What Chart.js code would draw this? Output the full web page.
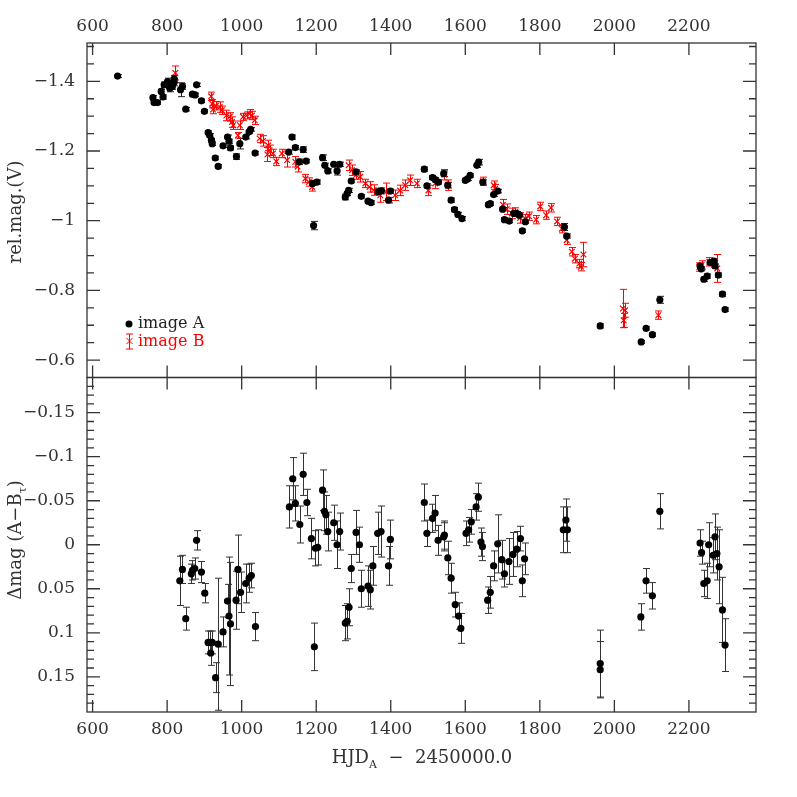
<!DOCTYPE html>
<html>
<head>
<meta charset="utf-8">
<script src="https://cdn.jsdelivr.net/npm/chart.js@4.4.0/dist/chart.umd.min.js"></script>
<style>
  html, body { margin: 0; padding: 0; background: #fff; }
  #wrap { width: 797px; height: 797px; }
</style>
</head>
<body>
<div id="wrap"><canvas id="lightCurve" width="797" height="797"></canvas></div>
<script>
// tick labels
const xTicks = [600, 800, 1000, 1200, 1400, 1600, 1800, 2000, 2200];
const magTicks = [-1.4, -1.2, -1, -0.8, -0.6];
const dmagTicks = [-0.15, -0.1, -0.05, 0, 0.05, 0.1, 0.15];

// image A : HJD - 2450000, relative V mag, error
const hjdA = [
  667, 762, 765, 774, 784, 789, 792, 801, 807, 814,
  819, 819, 836, 841, 850, 868, 875, 879, 892, 900,
  910, 914, 919, 921, 929, 937, 950, 962, 966, 970,
  986, 995, 1011, 1020, 1024, 1036, 1126, 1135, 1144, 1155,
  1165, 1173, 1190, 1193, 1202, 1217, 1223, 1231, 1247, 1256,
  1263, 1278, 1283, 1287, 1294, 1307, 1321, 1339, 1347, 1366,
  1375, 1394, 1399, 1490, 1497, 1512, 1519, 1528, 1542, 1553,
  1562, 1571, 1580, 1591, 1600, 1606, 1613, 1631, 1636, 1647,
  1662, 1667, 1676, 1687, 1700, 1705, 1718, 1730, 1738, 1745,
  1753, 1761, 1866, 1872, 1962, 2072, 2085, 2102, 2122, 2230,
  2233, 2240, 2249, 2257, 2267, 2270, 2279, 2290, 2297
];
const magA = [
  -1.415, -1.353, -1.339, -1.339, -1.371, -1.355, -1.390, -1.399, -1.380, -1.385,
  -1.397, -1.407, -1.376, -1.385, -1.320, -1.363, -1.361, -1.390, -1.344, -1.314,
  -1.253, -1.245, -1.231, -1.221, -1.180, -1.156, -1.215, -1.240, -1.228, -1.209,
  -1.184, -1.221, -1.240, -1.255, -1.262, -1.194, -1.197, -1.240, -1.210, -1.169,
  -1.204, -1.171, -1.107, -0.986, -1.111, -1.181, -1.159, -1.143, -1.162, -1.143,
  -1.162, -1.068, -1.078, -1.087, -1.114, -1.140, -1.070, -1.056, -1.052, -1.083,
  -1.086, -1.059, -1.085, -1.148, -1.100, -1.124, -1.118, -1.111, -1.135, -1.102,
  -1.059, -1.032, -1.018, -1.006, -1.116, -1.120, -1.130, -1.159, -1.168, -1.111,
  -1.046, -1.049, -1.075, -1.085, -1.033, -1.003, -0.999, -1.021, -1.021, -1.016,
  -0.971, -0.997, -0.982, -0.956, -0.698, -0.652, -0.691, -0.673, -0.773, -0.870,
  -0.862, -0.832, -0.841, -0.880, -0.884, -0.870, -0.844, -0.789, -0.745
];
const errA = [
  0.004, 0.006, 0.005, 0.005, 0.006, 0.006, 0.008, 0.010, 0.010, 0.008,
  0.010, 0.010, 0.020, 0.008, 0.005, 0.005, 0.005, 0.005, 0.005, 0.005,
  0.005, 0.005, 0.005, 0.005, 0.005, 0.005, 0.005, 0.006, 0.006, 0.006,
  0.008, 0.015, 0.005, 0.005, 0.005, 0.005, 0.006, 0.006, 0.006, 0.008,
  0.008, 0.005, 0.006, 0.012, 0.006, 0.008, 0.006, 0.006, 0.006, 0.012,
  0.006, 0.008, 0.006, 0.006, 0.005, 0.006, 0.005, 0.005, 0.005, 0.008,
  0.008, 0.008, 0.006, 0.006, 0.006, 0.006, 0.006, 0.006, 0.008, 0.008,
  0.006, 0.006, 0.006, 0.006, 0.005, 0.005, 0.005, 0.006, 0.008, 0.006,
  0.005, 0.005, 0.005, 0.005, 0.005, 0.005, 0.005, 0.005, 0.005, 0.005,
  0.005, 0.005, 0.010, 0.006, 0.006, 0.004, 0.005, 0.005, 0.010, 0.006,
  0.006, 0.006, 0.006, 0.006, 0.006, 0.006, 0.006, 0.006, 0.005
];

// image B (time shifted)
const hjdB = [
  822, 918, 921, 923, 931, 941, 947, 959, 968, 974,
  977, 990, 995, 1004, 1013, 1022, 1028, 1035, 1048, 1057,
  1069, 1071, 1075, 1084, 1093, 1108, 1122, 1144, 1150, 1171,
  1180, 1189, 1287, 1296, 1307, 1318, 1332, 1343, 1354, 1372,
  1388, 1412, 1425, 1439, 1452, 1470, 1501, 1519, 1544, 1553,
  1647, 1676, 1680, 1701, 1711, 1725, 1734, 1747, 1761, 1771,
  1790, 1801, 1817, 1830, 1846, 1859, 1872, 1886, 1894, 1906,
  1910, 1917, 2023, 2025, 2029, 2118, 2228, 2234, 2255, 2266,
  2276
];
const magB = [
  -1.424, -1.357, -1.336, -1.319, -1.330, -1.326, -1.317, -1.302, -1.298, -1.283,
  -1.274, -1.245, -1.274, -1.298, -1.302, -1.307, -1.302, -1.288, -1.236, -1.229,
  -1.190, -1.216, -1.202, -1.193, -1.170, -1.193, -1.174, -1.169, -1.155, -1.121,
  -1.111, -1.097, -1.159, -1.145, -1.131, -1.126, -1.107, -1.097, -1.088, -1.073,
  -1.083, -1.073, -1.087, -1.102, -1.116, -1.107, -1.087, -1.107, -1.132, -1.102,
  -1.113, -1.102, -1.092, -1.046, -1.033, -1.021, -1.025, -1.008, -1.006, -1.013,
  -1.003, -1.041, -1.016, -1.037, -0.998, -0.977, -0.944, -0.911, -0.891, -0.877,
  -0.868, -0.903, -0.748, -0.714, -0.743, -0.729, -0.867, -0.873, -0.882, -0.879,
  -0.863
];
const errB = [
  0.020, 0.012, 0.012, 0.012, 0.012, 0.015, 0.012, 0.015, 0.012, 0.015,
  0.012, 0.008, 0.012, 0.010, 0.010, 0.012, 0.012, 0.012, 0.012, 0.015,
  0.020, 0.015, 0.015, 0.012, 0.012, 0.012, 0.020, 0.015, 0.015, 0.012,
  0.012, 0.012, 0.015, 0.015, 0.012, 0.015, 0.012, 0.015, 0.015, 0.020,
  0.025, 0.015, 0.015, 0.015, 0.015, 0.012, 0.015, 0.015, 0.015, 0.015,
  0.012, 0.012, 0.012, 0.015, 0.015, 0.015, 0.012, 0.015, 0.012, 0.012,
  0.012, 0.012, 0.012, 0.012, 0.012, 0.012, 0.012, 0.012, 0.012, 0.012,
  0.012, 0.035, 0.055, 0.020, 0.020, 0.012, 0.012, 0.012, 0.012, 0.012,
  0.040
];

// difference A - B
const hjdD = [
  834, 841, 850, 865, 868, 874, 879, 892, 901, 910,
  916, 917, 921, 930, 937, 950, 962, 966, 970, 985,
  990, 997, 1011, 1020, 1026, 1037, 1128, 1137, 1144, 1156,
  1165, 1175, 1187, 1195, 1198, 1204, 1217, 1222, 1226, 1231,
  1247, 1256, 1263, 1278, 1283, 1288, 1294, 1307, 1316, 1321,
  1339, 1345, 1352, 1365, 1374, 1394, 1399, 1490, 1497, 1512,
  1519, 1527, 1542, 1544, 1553, 1562, 1573, 1582, 1588, 1602,
  1609, 1616, 1629, 1635, 1642, 1646, 1660, 1667, 1676, 1687,
  1698, 1705, 1717, 1728, 1738, 1748, 1753, 1759, 1863, 1870,
  1874, 1962, 1962, 2071, 2085, 2102, 2122, 2230, 2234, 2240,
  2249, 2253, 2265, 2270, 2275, 2281, 2290, 2297
];
const dmag = [
  0.041, 0.028, 0.084, 0.033, 0.029, 0.027, -0.005, 0.031, 0.055, 0.111,
  0.111, 0.123, 0.111, 0.151, 0.113, 0.099, 0.064, 0.081, 0.090, 0.063,
  0.028, 0.054, 0.044, 0.038, 0.035, 0.093, -0.043, -0.075, -0.047, -0.023,
  -0.080, -0.048, -0.007, 0.116, 0.004, 0.003, -0.062, -0.038, -0.034, -0.015,
  -0.025, 0.000, -0.015, 0.089, 0.087, 0.071, 0.027, -0.014, 0.000, 0.050,
  0.047, 0.051, 0.024, -0.013, -0.015, 0.024, -0.006, -0.048, -0.013, -0.030,
  -0.036, -0.005, -0.009, -0.011, 0.015, 0.038, 0.068, 0.081, 0.095, -0.013,
  -0.017, -0.026, -0.043, -0.054, -0.003, 0.002, 0.063, 0.054, 0.024, -0.001,
  0.017, 0.033, 0.019, 0.011, 0.005, -0.007, 0.041, 0.016, -0.017, -0.028,
  -0.017, 0.142, 0.135, 0.082, 0.041, 0.058, -0.038, -0.002, 0.009, 0.044,
  0.041, 0.000, 0.012, -0.009, 0.010, 0.025, 0.074, 0.114
];
const errD = [
  0.028, 0.016, 0.013, 0.011, 0.011, 0.012, 0.011, 0.012, 0.011, 0.013,
  0.013, 0.014, 0.013, 0.017, 0.075, 0.017, 0.019, 0.067, 0.070, 0.033,
  0.039, 0.023, 0.022, 0.016, 0.014, 0.016, 0.024, 0.024, 0.020, 0.021,
  0.024, 0.015, 0.023, 0.027, 0.020, 0.020, 0.023, 0.022, 0.022, 0.022,
  0.020, 0.027, 0.021, 0.020, 0.020, 0.021, 0.016, 0.025, 0.020, 0.021,
  0.023, 0.022, 0.022, 0.024, 0.029, 0.022, 0.022, 0.021, 0.015, 0.016,
  0.020, 0.017, 0.016, 0.016, 0.019, 0.017, 0.014, 0.015, 0.017, 0.014,
  0.014, 0.014, 0.015, 0.016, 0.016, 0.016, 0.015, 0.018, 0.017, 0.033,
  0.022, 0.015, 0.026, 0.025, 0.020, 0.014, 0.018, 0.018, 0.026, 0.024,
  0.026, 0.032, 0.038, 0.015, 0.014, 0.015, 0.020, 0.015, 0.013, 0.015,
  0.020, 0.025, 0.020, 0.026, 0.030, 0.042, 0.037, 0.030
];

const FONT = '"DejaVu Serif"';
const INK = '#333';

function pts(xs, ys) {
  return xs.map((x, i) => ({ x: x, y: ys[i] }));
}

function fmt(v) {
  const s = String(Math.round(v * 100) / 100);
  return s.replace('-', '\u2212');
}

function fixedTicks(values) {
  return s => { s.ticks = values.map(v => ({ value: v })); };
}

// vertical error bars with caps, drawn through the dataset's own scales
const errorBars = {
  id: 'errorBars',
  beforeDatasetsDraw(chart) {
    const ctx = chart.ctx;
    const area = chart.chartArea;
    chart.data.datasets.forEach((ds, i) => {
      if (!ds.errors) return;
      const meta = chart.getDatasetMeta(i);
      const xs = chart.scales[meta.xAxisID];
      const ys = chart.scales[meta.yAxisID];
      ctx.save();
      ctx.beginPath();
      ctx.rect(area.left, ys.top, area.right - area.left, ys.bottom - ys.top);
      ctx.clip();
      ctx.strokeStyle = ds.errColor;
      ctx.lineWidth = 1;
      ds.data.forEach((p, j) => {
        const e = ds.errors[j];
        const px = Math.round(xs.getPixelForValue(p.x)) + 0.5;
        const y1 = ys.getPixelForValue(p.y - e);
        const y2 = ys.getPixelForValue(p.y + e);
        ctx.beginPath();
        ctx.moveTo(px, y1); ctx.lineTo(px, y2);
        ctx.moveTo(px - 3.5, y1); ctx.lineTo(px + 3.5, y1);
        ctx.moveTo(px - 3.5, y2); ctx.lineTo(px + 3.5, y2);
        ctx.stroke();
      });
      ctx.restore();
    });
  }
};

function drawRich(ctx, parts, x, y, rot, size) {
  const big = size + 'px ' + FONT;
  const small = Math.round(size * 0.62) + 'px ' + FONT;
  ctx.save();
  ctx.translate(x, y);
  ctx.rotate(rot);
  let w = 0;
  parts.forEach(p => { ctx.font = p[1] ? small : big; w += ctx.measureText(p[0]).width; });
  let cx = -w / 2;
  ctx.textBaseline = 'alphabetic';
  ctx.fillStyle = INK;
  parts.forEach(p => {
    ctx.font = p[1] ? small : big;
    ctx.fillText(p[0], cx, p[1] ? size * 0.62 : size * 0.36);
    cx += ctx.measureText(p[0]).width;
  });
  ctx.restore();
}

// PGPLOT style frame: boxed panels, inward ticks on every side, labels, legend
const frame = {
  id: 'frame',
  afterDraw(chart) {
    const ctx = chart.ctx;
    const area = chart.chartArea;
    const xs = chart.scales.x;
    const panels = [
      { s: chart.scales.yTop, minorStep: 0.05, k0: -31, k1: -10 },
      { s: chart.scales.yBot, minorStep: 0.01, k0: -19, k1: 19 }
    ];
    ctx.save();
    ctx.strokeStyle = INK;
    ctx.lineWidth = 1.3;
    panels.forEach(pn => {
      const s = pn.s;
      ctx.strokeRect(area.left, s.top, area.right - area.left, s.bottom - s.top);
      ctx.beginPath();
      xs.ticks.forEach(t => {
        const px = xs.getPixelForValue(t.value);
        ctx.moveTo(px, s.top); ctx.lineTo(px, s.top + 12);
        ctx.moveTo(px, s.bottom); ctx.lineTo(px, s.bottom - 12);
      });
      s.ticks.forEach(t => {
        const py = s.getPixelForValue(t.value);
        ctx.moveTo(area.left, py); ctx.lineTo(area.left + 13, py);
        ctx.moveTo(area.right, py); ctx.lineTo(area.right - 13, py);
      });
      for (let k = pn.k0; k <= pn.k1; k++) {
        const v = k * pn.minorStep;
        if (v <= s.min || v >= s.max) continue;
        const py = s.getPixelForValue(v);
        ctx.moveTo(area.left, py); ctx.lineTo(area.left + 7, py);
        ctx.moveTo(area.right, py); ctx.lineTo(area.right - 7, py);
      }
      ctx.stroke();
    });

    // legend
    ctx.fillStyle = '#000';
    ctx.beginPath();
    ctx.arc(129, 324, 3.5, 0, Math.PI * 2);
    ctx.fill();
    ctx.strokeStyle = '#ff0000';
    ctx.lineWidth = 1;
    ctx.beginPath();
    ctx.moveTo(129.5, 334); ctx.lineTo(129.5, 349);
    ctx.moveTo(126, 334); ctx.lineTo(133, 334);
    ctx.moveTo(126, 349); ctx.lineTo(133, 349);
    ctx.moveTo(126.5, 338); ctx.lineTo(132.5, 344);
    ctx.moveTo(132.5, 338); ctx.lineTo(126.5, 344);
    ctx.stroke();
    ctx.font = '16px ' + FONT;
    ctx.textBaseline = 'alphabetic';
    ctx.fillStyle = '#222';
    ctx.fillText('image A', 138, 328);
    ctx.fillStyle = '#ff0000';
    ctx.fillText('image B', 138, 346);
    ctx.restore();

    // axis titles
    drawRich(ctx, [['rel.mag.(V)', 0]], 15, 212, -Math.PI / 2, 18);
    drawRich(ctx, [['\u0394mag (A\u2212B', 0], ['\u03c4', 1], [')', 0]], 15, 540, -Math.PI / 2, 18);
    drawRich(ctx, [['HJD', 0], ['A', 1], ['  \u2212  2450000.0', 0]], 422, 757, 0, 18);
  }
};

const tickFont = { family: FONT, size: 17 };

const chart = new Chart(document.getElementById('lightCurve').getContext('2d'), {
  type: 'scatter',
  data: {
    datasets: [
      {
        label: 'image A',
        data: pts(hjdA, magA),
        errors: errA,
        errColor: '#222',
        xAxisID: 'x',
        yAxisID: 'yTop',
        pointStyle: 'circle',
        pointRadius: 3.6,
        backgroundColor: '#000',
        borderColor: '#000',
        borderWidth: 0
      },
      {
        label: 'image B',
        data: pts(hjdB, magB),
        errors: errB,
        errColor: '#ff0000',
        xAxisID: 'x',
        yAxisID: 'yTop',
        pointStyle: 'crossRot',
        pointRadius: 4,
        borderColor: '#ff0000',
        borderWidth: 1.2
      },
      {
        label: 'A - B',
        data: pts(hjdD, dmag),
        errors: errD,
        errColor: '#333',
        xAxisID: 'x',
        yAxisID: 'yBot',
        pointStyle: 'circle',
        pointRadius: 3.6,
        backgroundColor: '#000',
        borderColor: '#000',
        borderWidth: 0
      }
    ]
  },
  options: {
    responsive: false,
    animation: false,
    layout: { padding: { left: 0, right: 41, top: 0, bottom: 0 } },
    plugins: {
      legend: { display: false },
      tooltip: { enabled: false }
    },
    scales: {
      x: {
        type: 'linear',
        position: 'bottom',
        min: 585,
        max: 2380,
        grid: { display: false, drawTicks: false },
        border: { display: false },
        afterBuildTicks: fixedTicks(xTicks),
        ticks: { autoSkip: false, maxRotation: 0, padding: 7, font: tickFont, color: INK, callback: v => String(v) },
        afterFit: s => { s.height = 85; }
      },
      x2: {
        type: 'linear',
        position: 'top',
        min: 585,
        max: 2380,
        grid: { display: false, drawTicks: false },
        border: { display: false },
        afterBuildTicks: fixedTicks(xTicks),
        ticks: { autoSkip: false, maxRotation: 0, padding: 6, font: tickFont, color: INK, callback: v => String(v) },
        afterFit: s => { s.height = 43; }
      },
      yBot: {
        type: 'linear',
        position: 'left',
        stack: 'panels',
        stackWeight: 1,
        reverse: true,
        min: -0.19,
        max: 0.19,
        grid: { display: false, drawTicks: false },
        border: { display: false },
        afterBuildTicks: fixedTicks(dmagTicks),
        ticks: { autoSkip: false, padding: 12, font: tickFont, color: INK, callback: v => fmt(v) },
        afterFit: s => { s.width = 87; }
      },
      yTop: {
        type: 'linear',
        position: 'left',
        stack: 'panels',
        stackWeight: 1,
        reverse: true,
        min: -1.51,
        max: -0.55,
        grid: { display: false, drawTicks: false },
        border: { display: false },
        afterBuildTicks: fixedTicks(magTicks),
        ticks: { autoSkip: false, padding: 12, font: tickFont, color: INK, callback: v => fmt(v) },
        afterFit: s => { s.width = 87; }
      }
    }
  },
  plugins: [errorBars, frame]
});
</script>
</body>
</html>
